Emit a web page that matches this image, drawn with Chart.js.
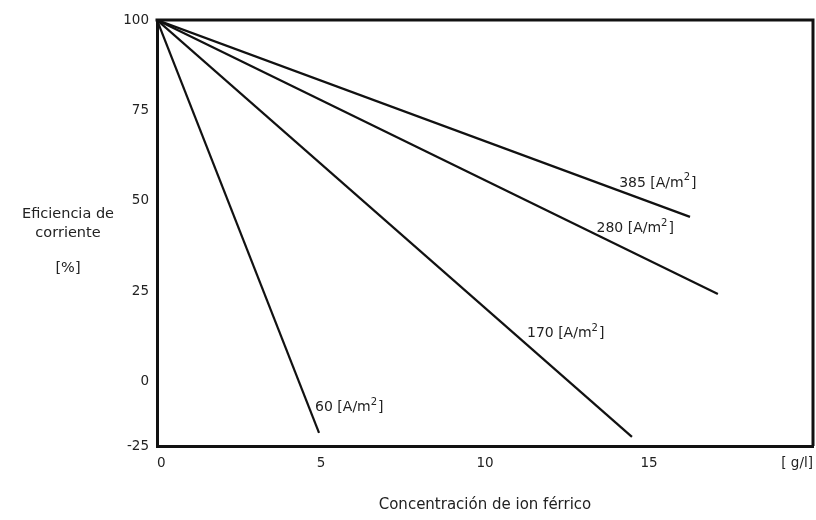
<!DOCTYPE html>
<html>
<head>
<meta charset="utf-8">
<script src="https://cdn.jsdelivr.net/npm/chart.js@4/dist/chart.umd.min.js"></script>
<style>
html,body{margin:0;padding:0;background:#fff;}
#wrap{width:816px;height:520px;position:relative;}
</style>
</head>
<body>
<div id="wrap"><canvas id="c" width="816" height="520"></canvas></div>
<script>
// ---- data ----
const seriesNames = ['385', '280', '170', '60'];
const x385 = [0, 16.25];
const y385 = [100, 45.6];
const x280 = [0, 17.1];
const y280 = [100, 24.3];
const x170 = [0, 14.48];
const y170 = [100, -15.2];
const x60 = [0, 4.94];
const y60 = [100, -14.1];

// label anchor points (data coords) for series labels
const labelX = [14.09, 13.4, 11.28, 4.82];
const labelY = [55.0, 42.5, 13.3, -6.9];

// axis ticks (the reference's bottom axis is broken: its lowest label reads -25)
const xTickValues = [0, 5, 10, 15, 20];
const xTickLabels = ['0', '5', '10', '15', '[ g/l]'];
const yTickValues = [-17.7, 0, 25, 50, 75, 100];
const yTickLabels = ['-25', '0', '25', '50', '75', '100'];

const xTitle = 'Concentración de ion férrico';
const yTitleLines = ['Eficiencia de', 'corriente', '', '[%]'];
const unitText = ' [A/m';

const FONT = "'DejaVu Sans', 'Liberation Sans', Arial, sans-serif";
const FS = 13.5;

function pts(xs, ys){ return xs.map((v,i)=>({x:v, y:ys[i]})); }

const datasets = [
  pts(x385,y385), pts(x280,y280), pts(x170,y170), pts(x60,y60)
].map((d,i)=>({
  label: seriesNames[i],
  data: d,
  showLine: true,
  borderColor: '#111',
  borderWidth: 2.2,
  pointRadius: 0,
  fill: false
}));

const decor = {
  id: 'decor',
  afterDraw(chart){
    const {ctx, chartArea:a, scales:{x, y}} = chart;
    ctx.save();
    // frame top + right
    ctx.strokeStyle = '#111';
    ctx.lineWidth = 3;
    ctx.beginPath();
    ctx.moveTo(a.left - 1.5, a.top);
    ctx.lineTo(a.right, a.top);
    ctx.lineTo(a.right, a.bottom);
    ctx.stroke();
    // series labels
    ctx.fillStyle = '#222';
    ctx.textBaseline = 'middle';
    ctx.textAlign = 'left';
    seriesNames.forEach((n,i)=>{
      let px = x.getPixelForValue(labelX[i]);
      const py = y.getPixelForValue(labelY[i]);
      ctx.font = '14px ' + FONT;
      const s1 = n + unitText;
      ctx.fillText(s1, px, py);
      px += ctx.measureText(s1).width;
      ctx.font = '10px ' + FONT;
      ctx.fillText('2', px, py - 5);
      px += ctx.measureText('2').width + 1;
      ctx.font = '14px ' + FONT;
      ctx.fillText(']', px, py);
    });
    // y title (horizontal, left)
    ctx.textAlign = 'center';
    ctx.font = '14.5px ' + FONT;
    const ys = [214, 233, 250, 268];
    yTitleLines.forEach((t,i)=>{ if(t) ctx.fillText(t, 68, ys[i]); });
    ctx.restore();
  }
};

new Chart(document.getElementById('c'), {
  type: 'scatter',
  data: { datasets },
  options: {
    responsive: false,
    animation: false,
    layout: { padding: { left: 0, right: 3, top: 20, bottom: 0 } },
    plugins: { legend: { display: false }, tooltip: { enabled: false } },
    scales: {
      x: {
        type: 'linear',
        min: 0, max: 20,
        afterBuildTicks(s){ s.ticks = xTickValues.map(v=>({value:v})); },
        afterFit(s){ s.height = 74; s.paddingLeft = 0; s.paddingRight = 0; },
        grid: { display: false, drawTicks: false },
        border: { display: true, color: '#111', width: 3 },
        ticks: {
          padding: 9,
          align: 'inner',
          color: '#222',
          font: { family: FONT, size: FS },
          maxRotation: 0,
          autoSkip: false,
          callback(v){ const i = xTickValues.indexOf(v); return i >= 0 ? xTickLabels[i] : ''; }
        },
        title: {
          display: true, text: xTitle, color: '#222',
          font: { family: FONT, size: 15 },
          padding: { top: 8, bottom: 6 }
        }
      },
      y: {
        type: 'linear',
        min: -17.7, max: 100,
        afterBuildTicks(s){ s.ticks = yTickValues.map(v=>({value:v})); },
        afterFit(s){ s.width = 157; s.paddingTop = 0; s.paddingBottom = 0; },
        grid: { display: false, drawTicks: false },
        border: { display: true, color: '#111', width: 3 },
        ticks: {
          padding: 8,
          color: '#222',
          font: { family: FONT, size: FS },
          autoSkip: false,
          callback(v){ const i = yTickValues.indexOf(v); return i >= 0 ? yTickLabels[i] : ''; }
        }
      }
    }
  },
  plugins: [decor]
});
</script>
</body>
</html>
